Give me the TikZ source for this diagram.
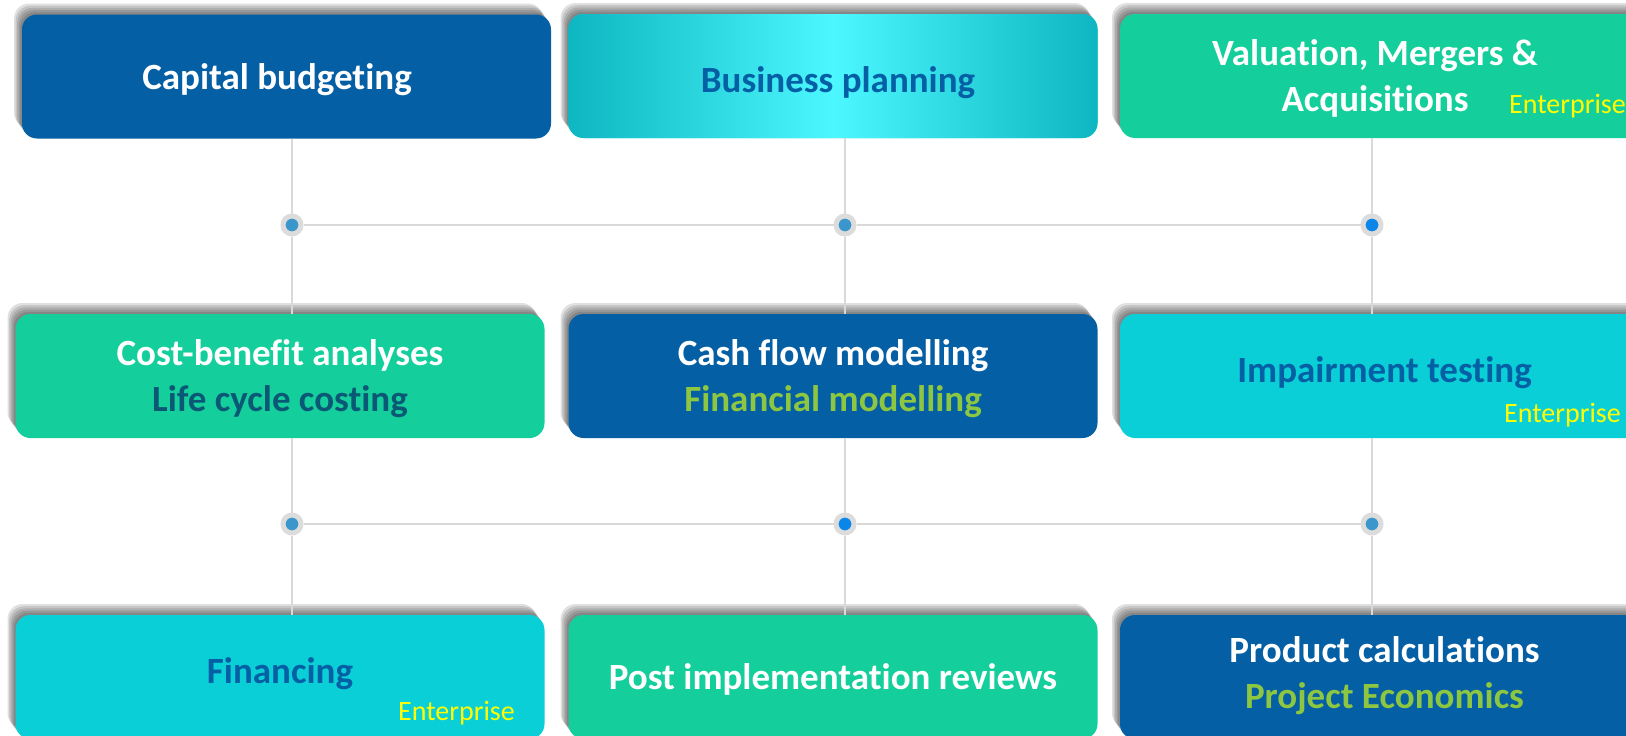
\documentclass[tikz,border=0pt]{standalone}
\usepackage{fontspec}
\setmainfont{Carlito}[Ligatures=NoCommon]
\usepackage{xcolor}
\usetikzlibrary{shapes,arrows}
\usetikzlibrary{calc}
\usetikzlibrary{positioning,shadows}

\definecolor{boxblue}{HTML}{045FA4}
\definecolor{boxcyan}{HTML}{0BCFD7}
\definecolor{boxgreen}{HTML}{14CF9B}
\definecolor{cyanedge}{HTML}{0DB6C0}
\definecolor{cyanmid}{HTML}{4CF7FF}
\definecolor{tealtext}{HTML}{0B5876}
\definecolor{limetext}{HTML}{8DC641}
\definecolor{tagyellow}{HTML}{FFFF00}
\definecolor{linegray}{HTML}{D9D9D9}
\definecolor{ringgray}{HTML}{DCDCDC}
\definecolor{dotblue}{HTML}{3A96CB}
\definecolor{dotbright}{HTML}{0A86E8}

\newcommand{\cardfont}{\fontsize{37}{46}\selectfont\bfseries}
\newcommand{\enterfont}{\fontsize{28}{32}\selectfont}

\begin{document}
\begin{tikzpicture}[x=1pt, y=-1pt,
	shadow_layer/.style={preaction={fill=black, opacity=0.12, transform canvas={xshift=-#1*1.6pt, yshift=#1*2.2pt}}},
	box_node/.style={rounded corners=15pt, minimum width=529pt, minimum height=124pt, inner sep=0pt, align=center, font=\cardfont, text depth=0pt,
		shadow_layer=5, shadow_layer=4, shadow_layer=3, shadow_layer=2, shadow_layer=1},
	blue_box/.style={box_node, fill=boxblue, text=white},
	green_box/.style={box_node, fill=boxgreen, text=white},
	cyan_box/.style={box_node, fill=boxcyan, text=boxblue},
	tag_node/.style={font=\enterfont, text=tagyellow, anchor=base west, inner sep=0pt},
	dot_node/.style={circle, minimum size=18pt, inner sep=0pt, line width=5pt, draw=ringgray, fill=dotblue},
	link/.style={draw=linegray, line width=2.5pt}]
				\clip (0,0) rectangle (1626,736);
				
				% top row
				\node[blue_box] (1) at (286.5,76.5) {Capital budgeting\hspace*{19pt}};
				\node[cyan_box, text height=32pt, left color=cyanedge, right color=cyanedge, middle color=cyanmid] (2) at (833,76) {\hspace*{10pt}Business planning};
				\node[green_box] (3) at (1384.5,76) {Valuation, Mergers \&\hspace*{19pt}\\Acquisitions\hspace*{19pt}};
				
				% middle row
				\node[green_box] (4) at (280,376) {Cost-benefit analyses\\\textcolor{tealtext}{Life cycle costing}};
				\node[blue_box] (5) at (833,376) {Cash flow modelling\\\textcolor{limetext}{Financial modelling}};
				\node[cyan_box, text depth=12pt] (6) at (1384.5,376) {Impairment testing};
				
				% bottom row
				\node[cyan_box, text depth=12pt] (7) at (280,677) {Financing};
				\node[green_box] (8) at (833,677) {Post implementation reviews};
				\node[blue_box, text depth=8pt] (9) at (1384.5,677) {Product calculations\\\textcolor{limetext}{Project Economics}};
				
				\node[tag_node] (t1) at (1509,113) {Enterprise};
				\node[tag_node] (t2) at (1504,422) {Enterprise};
				\node[tag_node] (t3) at (398,720) {Enterprise};
				
				% junctions
				\node[dot_node] (d1) at (292,225) {};
				\node[dot_node] (d2) at (845,225) {};
				\node[dot_node, fill=dotbright] (d3) at (1372,225) {};
				\node[dot_node] (e1) at (292,524) {};
				\node[dot_node, fill=dotbright] (e2) at (845,524) {};
				\node[dot_node] (e3) at (1372,524) {};
				
				\path[link]
				(d1 |- 1.south) edge (d1)
				(d1) edge (d1 |- 4.north)
				(e1 |- 4.south) edge (e1)
				(e1) edge (e1 |- 7.north)
				(d2 |- 2.south) edge (d2)
				(d2) edge (d2 |- 5.north)
				(e2 |- 5.south) edge (e2)
				(e2) edge (e2 |- 8.north)
				(d3 |- 3.south) edge (d3)
				(d3) edge (d3 |- 6.north)
				(e3 |- 6.south) edge (e3)
				(e3) edge (e3 |- 9.north)
				(d1) edge (d2)
				(d2) edge (d3)
				(e1) edge (e2)
				(e2) edge (e3);
			\end{tikzpicture}
\end{document}
